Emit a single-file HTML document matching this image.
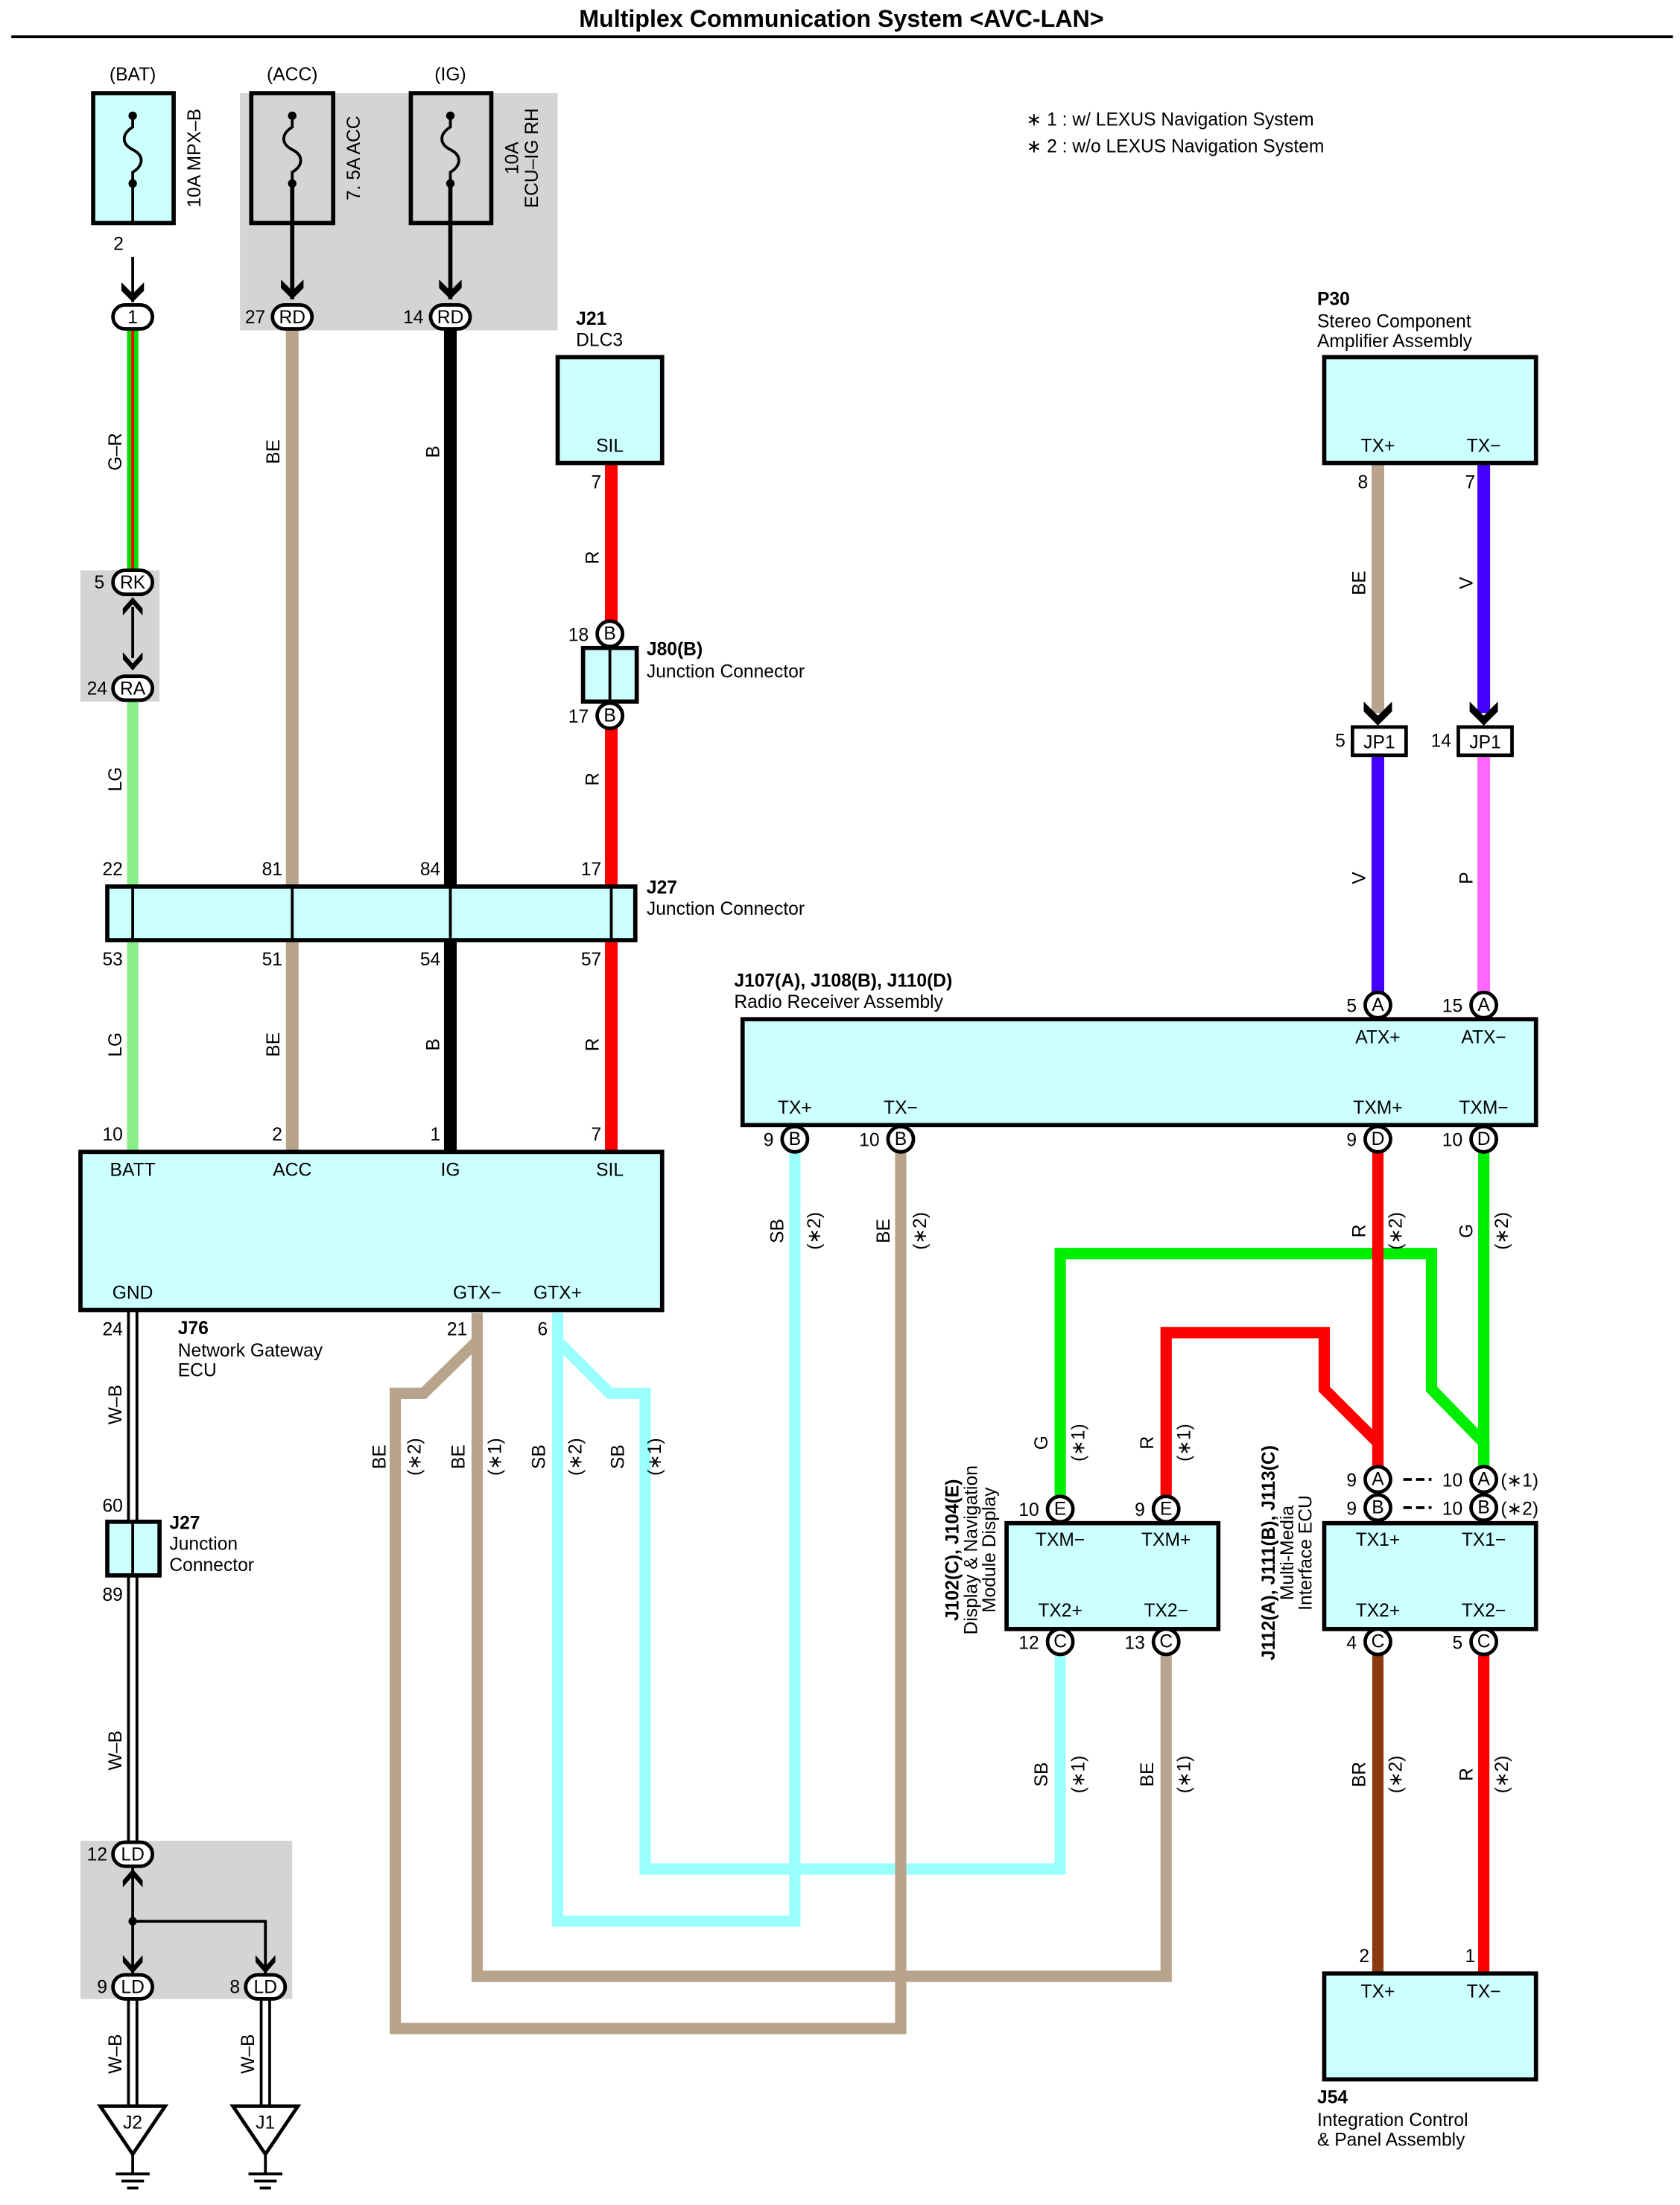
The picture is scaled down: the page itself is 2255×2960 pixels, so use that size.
<!DOCTYPE html>
<html><head><meta charset="utf-8"><style>
html,body{margin:0;padding:0;background:#fff}
svg{display:block}
text{font-family:"Liberation Sans",sans-serif;font-size:13px;fill:#000}
.b{font-weight:bold}
.c{text-anchor:middle}
.r{text-anchor:end}
</style></head><body>
<svg width="2255" height="2960" viewBox="0 0 1190 1562" preserveAspectRatio="none" xmlns="http://www.w3.org/2000/svg">
<rect width="1190" height="1562" fill="#fff"/>
<text x="596" y="19" class="b c" style="font-size:17px">Multiplex Communication System &lt;AVC-LAN&gt;</text>
<line x1="8" y1="26" x2="1185" y2="26" stroke="#000" stroke-width="2"/>

<rect x="170" y="66" width="225" height="168" fill="#d4d4d4"/>
<rect x="57" y="404" width="56" height="93" fill="#d4d4d4"/>
<rect x="57" y="1304" width="150" height="112" fill="#d4d4d4"/>

<g stroke="#000" stroke-width="3">
<rect x="66" y="66" width="57" height="92" fill="#ccffff"/>
<rect x="178" y="66" width="58" height="92" fill="#d4d4d4"/>
<rect x="291" y="66" width="57" height="92" fill="#d4d4d4"/>
</g>
<g fill="none" stroke="#000" stroke-width="2">
<path d="M94 82 v8 c-8 5 -8 12 0 16 c8 4 8 11 0 16 v8"/>
<path d="M207 82 v8 c-8 5 -8 12 0 16 c8 4 8 11 0 16 v8"/>
<path d="M319 82 v8 c-8 5 -8 12 0 16 c8 4 8 11 0 16 v8"/>
<line x1="94" y1="130" x2="94" y2="158"/>
<line x1="94" y1="182" x2="94" y2="214" stroke-width="2"/>
<line x1="207" y1="130" x2="207" y2="212" stroke-width="3"/>
<line x1="319" y1="130" x2="319" y2="212" stroke-width="3"/>
</g>
<g fill="#000"><circle cx="94" cy="82" r="3"/><circle cx="94" cy="130" r="3"/><circle cx="207" cy="82" r="3"/><circle cx="207" cy="130" r="3"/><circle cx="319" cy="82" r="3"/><circle cx="319" cy="130" r="3"/>
<path d="M86 200 l8 8 l8 -8 v6 l-8 8 l-8 -8z"/>
<path d="M199 198 l8 8 l8 -8 v6 l-8 8 l-8 -8z"/>
<path d="M311 198 l8 8 l8 -8 v6 l-8 8 l-8 -8z"/>
</g>
<text x="94" y="57" class="c">(BAT)</text><text x="207" y="57" class="c">(ACC)</text><text x="319" y="57" class="c">(IG)</text>
<text transform="translate(142 112) rotate(-90)" class="c">10A MPX–B</text>
<text transform="translate(255 112) rotate(-90)" class="c">7. 5A ACC</text>
<text transform="translate(367 112) rotate(-90)" class="c">10A</text>
<text transform="translate(381 112) rotate(-90)" class="c">ECU–IG RH</text>
<text x="84" y="177" class="c">2</text>

<text x="727" y="89">∗ 1 : w/ LEXUS Navigation System</text>
<text x="727" y="108">∗ 2 : w/o LEXUS Navigation System</text>

<g fill="none" stroke-linejoin="miter">
<line x1="94" y1="232" x2="94" y2="404" stroke="#00dd00" stroke-width="8"/>
<line x1="94" y1="232" x2="94" y2="404" stroke="#ff0000" stroke-width="2"/>
<line x1="94" y1="497" x2="94" y2="816" stroke="#88ee88" stroke-width="8"/>
<line x1="207" y1="232" x2="207" y2="816" stroke="#b8a48c" stroke-width="9"/>
<line x1="319" y1="232" x2="319" y2="816" stroke="#000" stroke-width="9"/>
<line x1="433" y1="328" x2="433" y2="441" stroke="#ff0000" stroke-width="9"/>
<line x1="433" y1="515" x2="433" y2="816" stroke="#ff0000" stroke-width="9"/>
<line x1="94" y1="928" x2="94" y2="1305" stroke="#000" stroke-width="8"/>
<line x1="94" y1="928" x2="94" y2="1305" stroke="#fff" stroke-width="4"/>
<line x1="94" y1="1415" x2="94" y2="1492" stroke="#000" stroke-width="8"/>
<line x1="94" y1="1415" x2="94" y2="1492" stroke="#fff" stroke-width="4"/>
<line x1="188" y1="1415" x2="188" y2="1492" stroke="#000" stroke-width="8"/>
<line x1="188" y1="1415" x2="188" y2="1492" stroke="#fff" stroke-width="4"/>
<path d="M94 1322 V1398 M94 1361 H188 V1398" stroke="#000" stroke-width="2"/>
<line x1="976" y1="328" x2="976" y2="505" stroke="#b8a48c" stroke-width="9"/>
<line x1="1051" y1="328" x2="1051" y2="505" stroke="#4400ff" stroke-width="9"/>
<line x1="976" y1="535" x2="976" y2="704" stroke="#4400ff" stroke-width="9"/>
<line x1="1051" y1="535" x2="1051" y2="704" stroke="#ff66ff" stroke-width="9"/>
<path d="M395 930 V1361 H563 V815" stroke="#99ffff" stroke-width="8"/>
<path d="M395 950 L432 987 H457 V1324 H751 V1172" stroke="#99ffff" stroke-width="8"/>
<path d="M338 930 V1400 H826 V1172" stroke="#b8a48c" stroke-width="8"/>
<path d="M338 950 L300 987 H280 V1437 H638 V815" stroke="#b8a48c" stroke-width="8"/>
<path d="M1051 815 V1040" stroke="#00ee00" stroke-width="8"/>
<path d="M751 1061 V888 H1014 V984 L1051 1022 V1040" stroke="#00ee00" stroke-width="8"/>
<path d="M976 815 V1040" stroke="#ff0000" stroke-width="8"/>
<path d="M826 1061 V944 H938 V984 L976 1022 V1040" stroke="#ff0000" stroke-width="8"/>
<line x1="976" y1="1172" x2="976" y2="1398" stroke="#8b3a0f" stroke-width="8"/>
<line x1="1051" y1="1172" x2="1051" y2="1398" stroke="#ff0000" stroke-width="8"/>
</g>

<g stroke="#000" stroke-width="3" fill="#ccffff">
<rect x="395" y="253" width="74" height="75"/>
<rect x="413" y="459" width="38" height="38"/>
<rect x="76" y="628" width="374" height="38"/>
<rect x="57" y="816" width="412" height="112"/>
<rect x="76" y="1078" width="37" height="38"/>
<rect x="938" y="253" width="150" height="75"/>
<rect x="526" y="722" width="562" height="75"/>
<rect x="713" y="1079" width="150" height="75"/>
<rect x="938" y="1079" width="150" height="75"/>
<rect x="938" y="1398" width="150" height="75"/>
</g>
<g stroke="#000" stroke-width="2">
<line x1="94" y1="628" x2="94" y2="666"/><line x1="207" y1="628" x2="207" y2="666"/><line x1="319" y1="628" x2="319" y2="666"/><line x1="433" y1="628" x2="433" y2="666"/>
<line x1="432" y1="459" x2="432" y2="497"/><line x1="94" y1="1078" x2="94" y2="1116"/>
</g>

<g stroke="#000" stroke-width="2.5" fill="#fff">
<rect x="80" y="216" width="28" height="17" rx="8.5"/>
<rect x="193" y="216" width="28" height="17" rx="8.5"/>
<rect x="305" y="216" width="28" height="17" rx="8.5"/>
<rect x="80" y="404" width="28" height="17" rx="8.5"/>
<rect x="80" y="479" width="28" height="17" rx="8.5"/>
<rect x="80" y="1305" width="28" height="17" rx="8.5"/>
<rect x="80" y="1399" width="28" height="17" rx="8.5"/>
<rect x="174" y="1399" width="28" height="17" rx="8.5"/>
<rect x="958" y="515" width="38" height="20"/>
<rect x="1033" y="515" width="38" height="20"/>
</g>
<g font-size="12">
<text x="94" y="229" class="c">1</text><text x="207" y="229" class="c">RD</text><text x="319" y="229" class="c">RD</text>
<text x="94" y="417" class="c">RK</text><text x="94" y="492" class="c">RA</text>
<text x="94" y="1318" class="c">LD</text><text x="94" y="1412" class="c">LD</text><text x="188" y="1412" class="c">LD</text>
<text x="977" y="530" class="c">JP1</text><text x="1052" y="530" class="c">JP1</text>
</g>
<g fill="#000">
<path d="M87 436 l7 -8 l7 8 v-5 l-7 -8 l-7 8z"/><path d="M87 462 l7 8 l7 -8 v5 l-7 8 l-7 -8z"/>
<line x1="94" y1="430" x2="94" y2="466" stroke="#000" stroke-width="2"/>
<path d="M87 1337 l7 -8 l7 8 v-5 l-7 -8 l-7 8z"/>
<path d="M87 1385 l7 8 l7 -8 v5 l-7 8 l-7 -8z"/><path d="M181 1385 l7 8 l7 -8 v5 l-7 8 l-7 -8z"/>
<circle cx="94" cy="1361" r="3"/>
<path d="M966 497 l10 10 l10 -10 v5 l-10 10 l-10 -10z"/><path d="M966 504 l10 10 l10 -10 v-3 l-10 10 l-10 -10z" />
<path d="M1041 497 l10 10 l10 -10 v5 l-10 10 l-10 -10z"/><path d="M1041 504 l10 10 l10 -10 v-3 l-10 10 l-10 -10z"/>
</g>

<g stroke="#000" stroke-width="2.5" fill="#fff">
<circle cx="432" cy="449" r="9"/><circle cx="432" cy="507" r="9"/>
<circle cx="976" cy="712" r="9"/><circle cx="1051" cy="712" r="9"/>
<circle cx="563" cy="807" r="9"/><circle cx="638" cy="807" r="9"/><circle cx="976" cy="807" r="9"/><circle cx="1051" cy="807" r="9"/>
<circle cx="751" cy="1069" r="9"/><circle cx="826" cy="1069" r="9"/><circle cx="751" cy="1163" r="9"/><circle cx="826" cy="1163" r="9"/>
<circle cx="976" cy="1048" r="9"/><circle cx="1051" cy="1048" r="9"/><circle cx="976" cy="1068" r="9"/><circle cx="1051" cy="1068" r="9"/>
<circle cx="976" cy="1163" r="9"/><circle cx="1051" cy="1163" r="9"/>
</g>
<g font-size="12">
<text x="432" y="453" class="c">B</text><text x="432" y="511" class="c">B</text>
<text x="976" y="716" class="c">A</text><text x="1051" y="716" class="c">A</text>
<text x="563" y="811" class="c">B</text><text x="638" y="811" class="c">B</text><text x="976" y="811" class="c">D</text><text x="1051" y="811" class="c">D</text>
<text x="751" y="1073" class="c">E</text><text x="826" y="1073" class="c">E</text><text x="751" y="1167" class="c">C</text><text x="826" y="1167" class="c">C</text>
<text x="976" y="1052" class="c">A</text><text x="1051" y="1052" class="c">A</text><text x="976" y="1072" class="c">B</text><text x="1051" y="1072" class="c">B</text>
<text x="976" y="1167" class="c">C</text><text x="1051" y="1167" class="c">C</text>
</g>
<g stroke="#000" stroke-width="2"><line x1="994" y1="1048" x2="1014" y2="1048" stroke-dasharray="6 3"/><line x1="994" y1="1068" x2="1014" y2="1068" stroke-dasharray="6 3"/></g>

<g stroke="#000" stroke-width="2.5" fill="#fff">
<path d="M71 1492 H117 L94 1526 Z"/><path d="M165 1492 H211 L188 1526 Z"/>
</g>
<g stroke="#000" stroke-width="2">
<line x1="94" y1="1526" x2="94" y2="1540"/><line x1="82" y1="1540" x2="106" y2="1540"/><line x1="86" y1="1545" x2="102" y2="1545"/><line x1="90" y1="1550" x2="98" y2="1550"/>
<line x1="188" y1="1526" x2="188" y2="1540"/><line x1="176" y1="1540" x2="200" y2="1540"/><line x1="180" y1="1545" x2="196" y2="1545"/><line x1="184" y1="1550" x2="192" y2="1550"/>
</g>
<text x="94" y="1508" class="c" font-size="12">J2</text><text x="188" y="1508" class="c" font-size="12">J1</text>

<text x="408" y="230" class="b">J21</text><text x="408" y="245">DLC3</text>
<text x="933" y="216" class="b">P30</text><text x="933" y="232">Stereo Component</text><text x="933" y="246">Amplifier Assembly</text>
<text x="458" y="464" class="b">J80(B)</text><text x="458" y="480">Junction Connector</text>
<text x="458" y="633" class="b">J27</text><text x="458" y="648">Junction Connector</text>
<text x="520" y="699" class="b">J107(A), J108(B), J110(D)</text><text x="520" y="714">Radio Receiver Assembly</text>
<text x="126" y="945" class="b">J76</text><text x="126" y="961">Network Gateway</text><text x="126" y="975">ECU</text>
<text x="120" y="1083" class="b">J27</text><text x="120" y="1098">Junction</text><text x="120" y="1113">Connector</text>
<text x="933" y="1490" class="b">J54</text><text x="933" y="1506">Integration Control</text><text x="933" y="1520">&amp; Panel Assembly</text>
<text transform="translate(679 1098) rotate(-90)" class="b c">J102(C), J104(E)</text>
<text transform="translate(692 1098) rotate(-90)" class="c">Display &amp; Navigation</text>
<text transform="translate(705 1098) rotate(-90)" class="c">Module Display</text>
<text transform="translate(903 1100) rotate(-90)" class="b c">J112(A), J111(B), J113(C)</text>
<text transform="translate(916 1100) rotate(-90)" class="c">Multi-Media</text>
<text transform="translate(929 1100) rotate(-90)" class="c">Interface ECU</text>

<text x="432" y="320" class="c">SIL</text>
<text x="94" y="833" class="c">BATT</text><text x="207" y="833" class="c">ACC</text><text x="319" y="833" class="c">IG</text><text x="432" y="833" class="c">SIL</text>
<text x="94" y="920" class="c">GND</text><text x="338" y="920" class="c">GTX−</text><text x="395" y="920" class="c">GTX+</text>
<text x="976" y="320" class="c">TX+</text><text x="1051" y="320" class="c">TX−</text>
<text x="976" y="739" class="c">ATX+</text><text x="1051" y="739" class="c">ATX−</text>
<text x="563" y="789" class="c">TX+</text><text x="638" y="789" class="c">TX−</text><text x="976" y="789" class="c">TXM+</text><text x="1051" y="789" class="c">TXM−</text>
<text x="751" y="1095" class="c">TXM−</text><text x="826" y="1095" class="c">TXM+</text><text x="751" y="1145" class="c">TX2+</text><text x="826" y="1145" class="c">TX2−</text>
<text x="976" y="1095" class="c">TX1+</text><text x="1051" y="1095" class="c">TX1−</text><text x="976" y="1145" class="c">TX2+</text><text x="1051" y="1145" class="c">TX2−</text>
<text x="976" y="1415" class="c">TX+</text><text x="1051" y="1415" class="c">TX−</text>

<g>
<text x="188" y="229" class="r">27</text><text x="300" y="229" class="r">14</text>
<text x="426" y="346" class="r">7</text><text x="417" y="454" class="r">18</text><text x="417" y="512" class="r">17</text>
<text x="87" y="620" class="r">22</text><text x="200" y="620" class="r">81</text><text x="312" y="620" class="r">84</text><text x="426" y="620" class="r">17</text>
<text x="87" y="684" class="r">53</text><text x="200" y="684" class="r">51</text><text x="312" y="684" class="r">54</text><text x="426" y="684" class="r">57</text>
<text x="87" y="808" class="r">10</text><text x="200" y="808" class="r">2</text><text x="312" y="808" class="r">1</text><text x="426" y="808" class="r">7</text>
<text x="87" y="946" class="r">24</text><text x="331" y="946" class="r">21</text><text x="388" y="946" class="r">6</text>
<text x="87" y="1071" class="r">60</text><text x="87" y="1134" class="r">89</text>
<text x="76" y="1318" class="r">12</text><text x="76" y="1412" class="r">9</text><text x="170" y="1412" class="r">8</text>
<text x="74" y="417" class="r">5</text><text x="76" y="492" class="r">24</text>
<text x="969" y="346" class="r">8</text><text x="1045" y="346" class="r">7</text>
<text x="953" y="529" class="r">5</text><text x="1028" y="529" class="r">14</text>
<text x="961" y="717" class="r">5</text><text x="1036" y="717" class="r">15</text>
<text x="548" y="812" class="r">9</text><text x="623" y="812" class="r">10</text><text x="961" y="812" class="r">9</text><text x="1036" y="812" class="r">10</text>
<text x="736" y="1074" class="r">10</text><text x="811" y="1074" class="r">9</text><text x="736" y="1168" class="r">12</text><text x="811" y="1168" class="r">13</text>
<text x="961" y="1053" class="r">9</text><text x="1036" y="1053" class="r">10</text><text x="961" y="1073" class="r">9</text><text x="1036" y="1073" class="r">10</text>
<text x="961" y="1168" class="r">4</text><text x="1036" y="1168" class="r">5</text>
<text x="970" y="1390" class="r">2</text><text x="1045" y="1390" class="r">1</text>
</g>
<text x="1063" y="1053">(∗1)</text><text x="1063" y="1073">(∗2)</text>

<g>
<text transform="translate(86 320) rotate(-90)" class="c">G–R</text>
<text transform="translate(198 320) rotate(-90)" class="c">BE</text>
<text transform="translate(311 320) rotate(-90)" class="c">B</text>
<text transform="translate(424 395) rotate(-90)" class="c">R</text>
<text transform="translate(86 552) rotate(-90)" class="c">LG</text>
<text transform="translate(424 552) rotate(-90)" class="c">R</text>
<text transform="translate(86 740) rotate(-90)" class="c">LG</text>
<text transform="translate(198 740) rotate(-90)" class="c">BE</text>
<text transform="translate(311 740) rotate(-90)" class="c">B</text>
<text transform="translate(424 740) rotate(-90)" class="c">R</text>
<text transform="translate(86 995) rotate(-90)" class="c">W–B</text>
<text transform="translate(86 1240) rotate(-90)" class="c">W–B</text>
<text transform="translate(86 1455) rotate(-90)" class="c">W–B</text>
<text transform="translate(180 1455) rotate(-90)" class="c">W–B</text>
<text transform="translate(967 413) rotate(-90)" class="c">BE</text>
<text transform="translate(1043 413) rotate(-90)" class="c">V</text>
<text transform="translate(967 622) rotate(-90)" class="c">V</text>
<text transform="translate(1043 622) rotate(-90)" class="c">P</text>
<text transform="translate(555 872) rotate(-90)" class="c">SB</text><text transform="translate(581 872) rotate(-90)" class="c">(∗2)</text>
<text transform="translate(630 872) rotate(-90)" class="c">BE</text><text transform="translate(656 872) rotate(-90)" class="c">(∗2)</text>
<text transform="translate(967 872) rotate(-90)" class="c">R</text><text transform="translate(993 872) rotate(-90)" class="c">(∗2)</text>
<text transform="translate(1043 872) rotate(-90)" class="c">G</text><text transform="translate(1068 872) rotate(-90)" class="c">(∗2)</text>
<text transform="translate(273 1032) rotate(-90)" class="c">BE</text><text transform="translate(298 1032) rotate(-90)" class="c">(∗2)</text>
<text transform="translate(329 1032) rotate(-90)" class="c">BE</text><text transform="translate(355 1032) rotate(-90)" class="c">(∗1)</text>
<text transform="translate(386 1032) rotate(-90)" class="c">SB</text><text transform="translate(412 1032) rotate(-90)" class="c">(∗2)</text>
<text transform="translate(442 1032) rotate(-90)" class="c">SB</text><text transform="translate(468 1032) rotate(-90)" class="c">(∗1)</text>
<text transform="translate(742 1022) rotate(-90)" class="c">G</text><text transform="translate(768 1022) rotate(-90)" class="c">(∗1)</text>
<text transform="translate(817 1022) rotate(-90)" class="c">R</text><text transform="translate(843 1022) rotate(-90)" class="c">(∗1)</text>
<text transform="translate(742 1257) rotate(-90)" class="c">SB</text><text transform="translate(768 1257) rotate(-90)" class="c">(∗1)</text>
<text transform="translate(817 1257) rotate(-90)" class="c">BE</text><text transform="translate(843 1257) rotate(-90)" class="c">(∗1)</text>
<text transform="translate(967 1257) rotate(-90)" class="c">BR</text><text transform="translate(993 1257) rotate(-90)" class="c">(∗2)</text>
<text transform="translate(1043 1257) rotate(-90)" class="c">R</text><text transform="translate(1068 1257) rotate(-90)" class="c">(∗2)</text>
</g>
</svg>
</body></html>
